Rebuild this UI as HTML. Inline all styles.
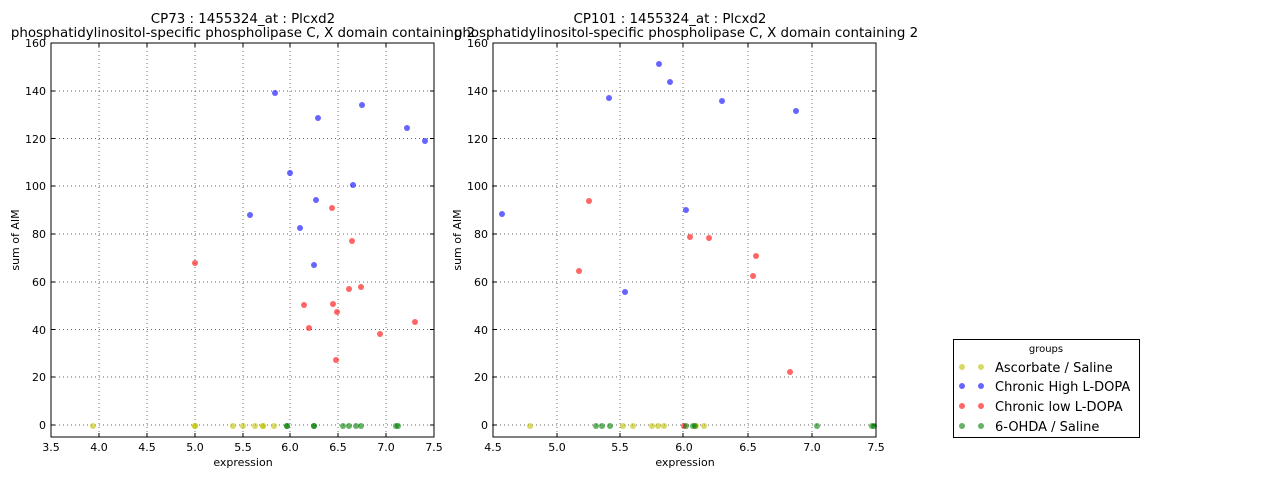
<!DOCTYPE html>
<html><head><meta charset="utf-8"><style>
html,body{margin:0;padding:0;background:#fff;}
svg{display:block;font-family:"DejaVu Sans","Liberation Sans",sans-serif;}
.t{font-size:11px;fill:#000}
.g{stroke:#000;stroke-width:0.7;stroke-dasharray:1,3;opacity:.8}
.k{stroke:#000;stroke-width:1}
.y{fill:#bfbf00;fill-opacity:.6}
.b{fill:#0000ff;fill-opacity:.6}
.r{fill:#ff0000;fill-opacity:.6}
.gr{fill:#008000;fill-opacity:.6}
</style></head><body>
<svg width="1280" height="480" viewBox="0 0 1280 480">
<!-- Left plot -->
<g>
<text x="243" y="23" text-anchor="middle" font-size="13.4">CP73 : 1455324_at : Plcxd2</text>
<text x="243" y="37" text-anchor="middle" font-size="13.4">phosphatidylinositol-specific phospholipase C, X domain containing 2</text>
<g class="g">
<line x1="147" y1="43" x2="147" y2="437"/><line x1="195" y1="43" x2="195" y2="437"/><line x1="243" y1="43" x2="243" y2="437"/><line x1="290" y1="43" x2="290" y2="437"/><line x1="338" y1="43" x2="338" y2="437"/><line x1="386" y1="43" x2="386" y2="437"/><line x1="99" y1="43" x2="99" y2="437"/>
<line x1="51" y1="425" x2="434" y2="425"/><line x1="51" y1="377" x2="434" y2="377"/><line x1="51" y1="329.5" x2="434" y2="329.5"/><line x1="51" y1="282" x2="434" y2="282"/><line x1="51" y1="234" x2="434" y2="234"/><line x1="51" y1="186" x2="434" y2="186"/><line x1="51" y1="138.5" x2="434" y2="138.5"/><line x1="51" y1="91" x2="434" y2="91"/>
</g>
<g class="k">
<path d="M99 437v-4M147 437v-4M195 437v-4M243 437v-4M290 437v-4M338 437v-4M386 437v-4M99 43v4M147 43v4M195 43v4M243 43v4M290 43v4M338 43v4M386 43v4"/>
<path d="M51 425h4M51 377h4M51 329.5h4M51 282h4M51 234h4M51 186h4M51 138.5h4M51 91h4M434 425h-4M434 377h-4M434 329.5h-4M434 282h-4M434 234h-4M434 186h-4M434 138.5h-4M434 91h-4"/>
</g>
<g class="b"><circle cx="275" cy="93" r="3"/><circle cx="318" cy="118" r="3"/><circle cx="425" cy="141" r="3"/><circle cx="407" cy="128" r="3"/><circle cx="362" cy="105" r="3"/><circle cx="290" cy="173" r="3"/><circle cx="353" cy="185" r="3"/><circle cx="250" cy="215" r="3"/><circle cx="316" cy="200" r="3"/><circle cx="300" cy="228" r="3"/><circle cx="314" cy="265" r="3"/></g>
<g class="r"><circle cx="195" cy="263" r="3"/><circle cx="332" cy="208" r="3"/><circle cx="352" cy="241" r="3"/><circle cx="304" cy="305" r="3"/><circle cx="309" cy="328" r="3"/><circle cx="349" cy="289" r="3"/><circle cx="361" cy="287" r="3"/><circle cx="333" cy="304" r="3"/><circle cx="337" cy="312" r="3"/><circle cx="336" cy="360" r="3"/><circle cx="415" cy="322" r="3"/><circle cx="380" cy="334" r="3"/></g>
<g class="y"><circle cx="93" cy="426" r="3"/><circle cx="195" cy="426" r="3"/><circle cx="195" cy="426" r="3"/><circle cx="233" cy="426" r="3"/><circle cx="243" cy="426" r="3"/><circle cx="255" cy="426" r="3"/><circle cx="263" cy="426" r="3"/><circle cx="263" cy="426" r="3"/><circle cx="274" cy="426" r="3"/></g>
<g class="gr"><circle cx="287" cy="426" r="3"/><circle cx="287" cy="426" r="3"/><circle cx="314" cy="426" r="3"/><circle cx="314" cy="426" r="3"/><circle cx="343" cy="426" r="3"/><circle cx="349" cy="426" r="3"/><circle cx="356" cy="426" r="3"/><circle cx="361" cy="426" r="3"/><circle cx="396" cy="426" r="3"/><circle cx="398" cy="426" r="3"/></g>
<rect x="51" y="43" width="383" height="394" fill="none" stroke="#000" stroke-width="1"/>
<g class="t" text-anchor="middle">
<text x="51" y="451">3.5</text><text x="99" y="451">4.0</text><text x="147" y="451">4.5</text><text x="195" y="451">5.0</text><text x="243" y="451">5.5</text><text x="290" y="451">6.0</text><text x="338" y="451">6.5</text><text x="386" y="451">7.0</text><text x="434" y="451">7.5</text>
<text x="243" y="466">expression</text>
</g>
<g class="t" text-anchor="end">
<text x="46" y="429">0</text><text x="46" y="381">20</text><text x="46" y="334">40</text><text x="46" y="286">60</text><text x="46" y="238">80</text><text x="46" y="190">100</text><text x="46" y="143">120</text><text x="46" y="95">140</text><text x="46" y="47">160</text>
</g>
<text class="t" transform="translate(19,240) rotate(-90)" text-anchor="middle">sum of AIM</text>
</g>
<!-- Right plot -->
<g>
<text x="670" y="23" text-anchor="middle" font-size="13.4">CP101 : 1455324_at : Plcxd2</text>
<text x="686" y="37" text-anchor="middle" font-size="13.4">phosphatidylinositol-specific phospholipase C, X domain containing 2</text>
<g class="g">
<line x1="557" y1="43" x2="557" y2="437"/><line x1="620" y1="43" x2="620" y2="437"/><line x1="683" y1="43" x2="683" y2="437"/><line x1="748" y1="43" x2="748" y2="437"/><line x1="812" y1="43" x2="812" y2="437"/>
<line x1="492" y1="425" x2="876" y2="425"/><line x1="492" y1="377" x2="876" y2="377"/><line x1="492" y1="329.5" x2="876" y2="329.5"/><line x1="492" y1="282" x2="876" y2="282"/><line x1="492" y1="234" x2="876" y2="234"/><line x1="492" y1="186" x2="876" y2="186"/><line x1="492" y1="138.5" x2="876" y2="138.5"/><line x1="492" y1="91" x2="876" y2="91"/>
</g>
<g class="k">
<path d="M557 437v-4M620 437v-4M683 437v-4M748 437v-4M812 437v-4M557 43v4M620 43v4M683 43v4M748 43v4M812 43v4"/>
<path d="M493 425h4M493 377h4M493 329.5h4M493 282h4M493 234h4M493 186h4M493 138.5h4M493 91h4M876 425h-4M876 377h-4M876 329.5h-4M876 282h-4M876 234h-4M876 186h-4M876 138.5h-4M876 91h-4"/>
</g>
<g class="b"><circle cx="659" cy="64" r="3"/><circle cx="670" cy="82" r="3"/><circle cx="609" cy="98" r="3"/><circle cx="722" cy="101" r="3"/><circle cx="796" cy="111" r="3"/><circle cx="502" cy="214" r="3"/><circle cx="686" cy="210" r="3"/><circle cx="625" cy="292" r="3"/></g>
<g class="r"><circle cx="589" cy="201" r="3"/><circle cx="579" cy="271" r="3"/><circle cx="690" cy="237" r="3"/><circle cx="709" cy="238" r="3"/><circle cx="756" cy="256" r="3"/><circle cx="753" cy="276" r="3"/><circle cx="790" cy="372" r="3"/><circle cx="684" cy="426" r="3"/></g>
<g class="y"><circle cx="530" cy="426" r="3"/><circle cx="623" cy="426" r="3"/><circle cx="633" cy="426" r="3"/><circle cx="652" cy="426" r="3"/><circle cx="658" cy="426" r="3"/><circle cx="664" cy="426" r="3"/><circle cx="696" cy="426" r="3"/><circle cx="704" cy="426" r="3"/></g>
<g class="gr"><circle cx="596" cy="426" r="3"/><circle cx="602" cy="426" r="3"/><circle cx="610" cy="426" r="3"/><circle cx="686" cy="426" r="3"/><circle cx="693" cy="426" r="3"/><circle cx="695" cy="426" r="3"/><circle cx="817" cy="426" r="3"/><circle cx="872" cy="426" r="3"/><circle cx="874" cy="426" r="3"/></g>
<rect x="493" y="43" width="383" height="394" fill="none" stroke="#000" stroke-width="1"/>
<g class="t" text-anchor="middle">
<text x="493" y="451">4.5</text><text x="557" y="451">5.0</text><text x="620" y="451">5.5</text><text x="684" y="451">6.0</text><text x="748" y="451">6.5</text><text x="812" y="451">7.0</text><text x="876" y="451">7.5</text>
<text x="685" y="466">expression</text>
</g>
<g class="t" text-anchor="end">
<text x="488" y="429">0</text><text x="488" y="381">20</text><text x="488" y="334">40</text><text x="488" y="286">60</text><text x="488" y="238">80</text><text x="488" y="190">100</text><text x="488" y="143">120</text><text x="488" y="95">140</text><text x="488" y="47">160</text>
</g>
<text class="t" transform="translate(461,240) rotate(-90)" text-anchor="middle">sum of AIM</text>
</g>
<!-- Legend -->
<rect x="953.5" y="339.5" width="186" height="98" fill="#fff" stroke="#000" stroke-width="1"/>
<text x="1046" y="352" text-anchor="middle" font-size="10">groups</text>
<g font-size="13">
<circle class="y" cx="962" cy="367" r="3"/><circle class="y" cx="981" cy="367" r="3"/><text x="995" y="372">Ascorbate / Saline</text>
<circle class="b" cx="962" cy="386" r="3"/><circle class="b" cx="981" cy="386" r="3"/><text x="995" y="391">Chronic High L-DOPA</text>
<circle class="r" cx="962" cy="406" r="3"/><circle class="r" cx="981" cy="406" r="3"/><text x="995" y="411">Chronic low L-DOPA</text>
<circle class="gr" cx="962" cy="426" r="3"/><circle class="gr" cx="981" cy="426" r="3"/><text x="995" y="431">6-OHDA / Saline</text>
</g>
</svg>
</body></html>
